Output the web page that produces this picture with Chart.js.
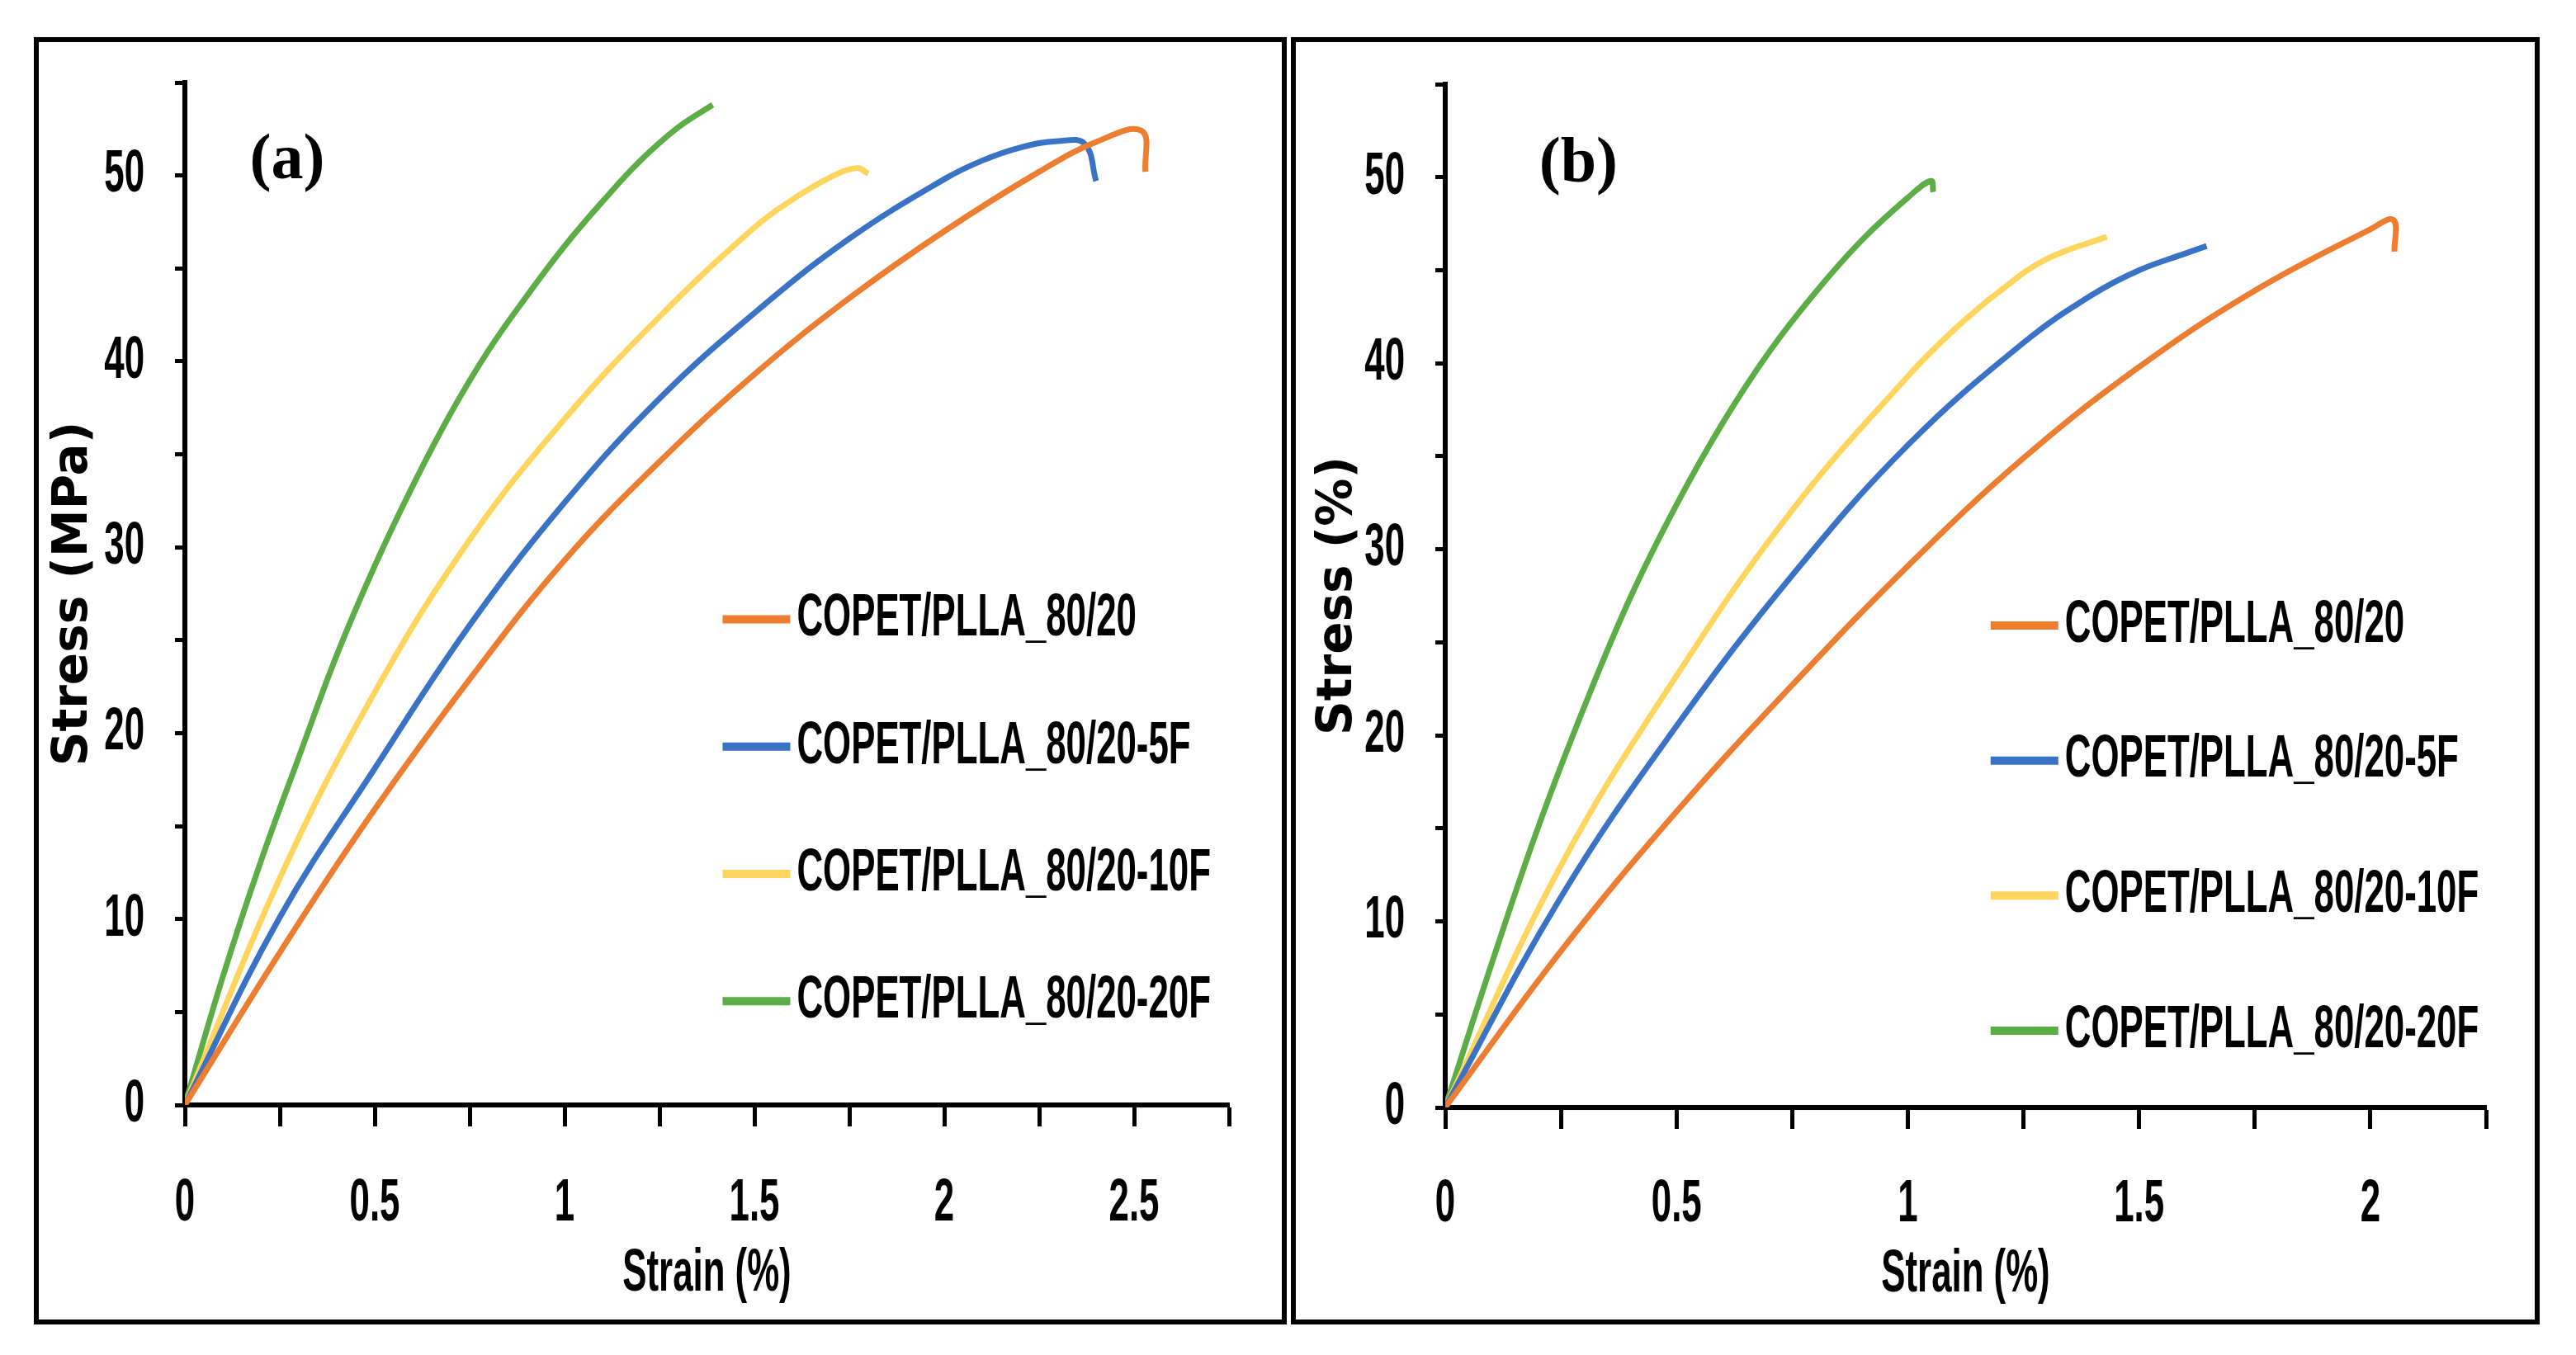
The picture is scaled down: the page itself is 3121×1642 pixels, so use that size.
<!DOCTYPE html>
<html>
<head>
<meta charset="utf-8">
<title>Stress-strain curves</title>
<script src="https://cdn.jsdelivr.net/npm/chart.js@4.4.1/dist/chart.umd.min.js"></script>
<style>
    html, body { margin: 0; padding: 0; background: #ffffff; }
    body { width: 3121px; height: 1642px; position: relative; overflow: hidden; }
    .panel { position: absolute; border: 6px solid #000; box-sizing: border-box; background: #fff; }
    .panel canvas { display: block; }
</style>
</head>
<body>
<div class="panel" id="panelA" style="left:41px; top:45px; width:1518px; height:1560px;"><canvas id="chartA"></canvas></div>
<div class="panel" id="panelB" style="left:1564px; top:45px; width:1513px; height:1560px;"><canvas id="chartB"></canvas></div>

<script>
// Series names (same four blends in both panels)
const seriesNames = ['COPET/PLLA_80/20', 'COPET/PLLA_80/20-5F', 'COPET/PLLA_80/20-10F', 'COPET/PLLA_80/20-20F'];
const seriesColors = ['#ED7D31', '#3A72C6', '#FFD55E', '#5CAD45'];

// Tick labels that are printed (the other ticks are bare marks)
const xTickLabelsA = [0, 0.5, 1, 1.5, 2, 2.5];
const xTickLabelsB = [0, 0.5, 1, 1.5, 2];
const yTickLabels = [0, 10, 20, 30, 40, 50];

// Panel (a) - strain (%) / stress (MPa)
const strainA_8020 = [0, 0.25, 0.5, 0.75, 1.0, 1.25, 1.5, 1.75, 2.0, 2.25, 2.4, 2.52, 2.53];
const stressA_8020 = [0, 8.2, 15.9, 22.9, 29.3, 34.6, 39.3, 43.4, 47.0, 50.2, 51.8, 52.4, 50.2];
const strainA_5F = [0, 0.25, 0.5, 0.75, 1.0, 1.25, 1.5, 1.75, 2.0, 2.1, 2.2, 2.3, 2.37, 2.40];
const stressA_5F = [0, 10.1, 18.1, 25.8, 32.4, 38.0, 42.6, 46.6, 49.8, 50.8, 51.5, 51.85, 51.7, 49.7];
const strainA_10F = [0, 0.25, 0.5, 0.75, 1.0, 1.25, 1.5, 1.6, 1.7, 1.77, 1.80];
const stressA_10F = [0, 12.2, 22.2, 30.4, 36.9, 42.4, 47.2, 48.7, 49.9, 50.4, 50.1];
const strainA_20F = [0, 0.1, 0.2, 0.3, 0.4, 0.5, 0.6, 0.7, 0.8, 0.9, 1.0, 1.1, 1.2, 1.3, 1.39];
const stressA_20F = [0, 6.9, 13.1, 18.7, 24.2, 29.0, 33.3, 37.2, 40.6, 43.5, 46.2, 48.6, 50.8, 52.6, 53.8];

// Panel (b)
const strainB_8020 = [0, 0.25, 0.5, 0.75, 1.0, 1.25, 1.5, 1.75, 2.0, 2.05, 2.052];
const stressB_8020 = [0, 8.4, 15.9, 22.7, 29.1, 34.9, 39.8, 43.9, 47.2, 47.7, 46.0];
const strainB_5F = [0, 0.25, 0.5, 0.75, 1.0, 1.25, 1.4, 1.5, 1.6, 1.646];
const stressB_5F = [0, 11.3, 20.5, 28.6, 35.6, 41.1, 43.7, 45.0, 45.9, 46.3];
const strainB_10F = [0, 0.25, 0.5, 0.75, 1.0, 1.1, 1.2, 1.3, 1.43];
const stressB_10F = [0, 13.0, 23.2, 32.1, 39.3, 41.8, 43.9, 45.6, 46.8];
const strainB_20F = [0, 0.1, 0.2, 0.3, 0.4, 0.5, 0.6, 0.7, 0.8, 0.9, 1.0, 1.05, 1.055];
const stressB_20F = [0, 7.7, 15.0, 21.5, 27.4, 32.4, 36.8, 40.6, 43.8, 46.6, 48.9, 49.8, 49.2];

// Tall, condensed bold face (the figure uses a narrow Excel font)
const NARROW_FONT = "bold 60px 'Liberation Sans', Arial, sans-serif";
const NARROW_SX = 0.73;
const NARROW_SY = 1.2;

function narrowText(ctx, text, x, y, align) {
    ctx.save();
    ctx.translate(x, y);
    ctx.scale(NARROW_SX, NARROW_SY);
    ctx.font = NARROW_FONT;
    ctx.fillStyle = '#000';
    ctx.textAlign = align;
    ctx.textBaseline = 'middle';
    ctx.fillText(text, 0, 0);
    ctx.restore();
}

/**
 * Tick labels, x title, panel tag and legend, drawn in the narrow face
 */
const panelOverlay = {
    id: 'panelOverlay',
    afterDraw(chart, args, opts) {
        const { ctx, chartArea: area, scales } = chart;
        const w = area.right - area.left;
        const h = area.bottom - area.top;
        ctx.save();

        // Tick labels, positioned by the chart scales
        opts.xLabels.forEach(v => {
            narrowText(ctx, String(v), scales.x.getPixelForValue(v), area.bottom + opts.xLabelOffset, 'center');
        });
        opts.yLabels.forEach(v => {
            narrowText(ctx, String(v), area.left - 49, scales.y.getPixelForValue(v), 'right');
        });

        // X axis title
        narrowText(ctx, opts.xTitle, (area.left + area.right) / 2, area.bottom + opts.xTitleOffset, 'center');

        // Panel tag
        ctx.fillStyle = '#000';
        ctx.font = "bold 78px 'Liberation Serif', serif";
        ctx.textAlign = 'center';
        ctx.textBaseline = 'middle';
        ctx.fillText(opts.tag, area.left + w * opts.tagX, area.top + h * opts.tagY);

        // Legend rows
        chart.data.datasets.forEach((ds, i) => {
            const x = area.left + w * opts.legendX;
            const y = area.top + h * (opts.legendY + i * opts.legendGap);
            ctx.strokeStyle = ds.borderColor;
            ctx.lineWidth = 10;
            ctx.lineCap = 'butt';
            ctx.beginPath();
            ctx.moveTo(x, y);
            ctx.lineTo(x + 82, y);
            ctx.stroke();
            narrowText(ctx, ds.label, x + 90, y, 'left');
        });
        ctx.restore();
    }
};

class StressStrainCharts {
    constructor() {
        this.charts = {};
    }

    init() {
        this.charts.a = this.buildPanel('chartA', {
            strains: [strainA_8020, strainA_5F, strainA_10F, strainA_20F],
            stresses: [stressA_8020, stressA_5F, stressA_10F, stressA_20F],
            xMax: 2.75,
            yTitle: 'Stress (MPa)',
            yAxisWidth: 177, xAxisHeight: 260, padTop: 49, padRight: 64,
            yTitlePad: 8,
            overlay: {
                xLabels: xTickLabelsA, yLabels: yTickLabels, xTitle: 'Strain (%)',
                xLabelOffset: 120, xTitleOffset: 205,
                tag: '(a)', tagX: 0.098, tagY: 0.077, legendX: 0.515, legendY: 0.525, legendGap: 0.1245
            }
        });
        this.charts.b = this.buildPanel('chartB', {
            strains: [strainB_8020, strainB_5F, strainB_10F, strainB_20F],
            stresses: [stressB_8020, stressB_5F, stressB_10F, stressB_20F],
            xMax: 2.25,
            yTitle: 'Stress (%)',
            yAxisWidth: 181, xAxisHeight: 257, padTop: 51, padRight: 59,
            yTitlePad: 17,
            overlay: {
                xLabels: xTickLabelsB, yLabels: yTickLabels, xTitle: 'Strain (%)',
                xLabelOffset: 118, xTitleOffset: 203,
                tag: '(b)', tagX: 0.128, tagY: 0.079, legendX: 0.524, legendY: 0.529, legendGap: 0.132
            }
        });
    }

    /**
     * One stress-strain panel
     */
    buildPanel(canvasId, cfg) {
        const canvas = document.getElementById(canvasId);
        if (!canvas) {
            console.log(`Canvas ${canvasId} not found`);
            return null;
        }

        const datasets = seriesNames.map((name, i) => ({
            label: name,
            data: cfg.strains[i].map((x, k) => ({ x: x, y: cfg.stresses[i][k] })),
            borderColor: seriesColors[i],
            backgroundColor: seriesColors[i],
            borderWidth: 7,
            pointRadius: 0,
            fill: false,
            tension: 0.4
        }));

        return new Chart(canvas.getContext('2d'), {
            type: 'line',
            data: { datasets: datasets },
            options: {
                responsive: true,
                maintainAspectRatio: false,
                animation: false,
                layout: { padding: { left: 0, top: cfg.padTop, right: cfg.padRight, bottom: 0 } },
                plugins: {
                    legend: { display: false },
                    tooltip: { enabled: false },
                    panelOverlay: cfg.overlay
                },
                scales: {
                    x: {
                        type: 'linear',
                        min: 0,
                        max: cfg.xMax,
                        afterFit: (scale) => { scale.height = cfg.xAxisHeight; },
                        border: { display: true, color: '#000', width: 6 },
                        grid: { drawOnChartArea: false, drawTicks: true, tickLength: 26, tickColor: '#000', tickWidth: 5 },
                        ticks: { display: false, stepSize: 0.25, autoSkip: false, maxRotation: 0 },
                        title: { display: false }
                    },
                    y: {
                        type: 'linear',
                        min: 0,
                        max: 55,
                        afterFit: (scale) => { scale.width = cfg.yAxisWidth; },
                        border: { display: true, color: '#000', width: 6 },
                        grid: { drawOnChartArea: false, drawTicks: true, tickLength: 12, tickColor: '#000', tickWidth: 5 },
                        ticks: { display: false, stepSize: 5, autoSkip: false },
                        title: {
                            display: true,
                            text: cfg.yTitle,
                            color: '#000',
                            font: { family: "'DejaVu Sans', sans-serif", size: 58, weight: 'bold', lineHeight: 1.2 },
                            padding: { top: cfg.yTitlePad, bottom: 0 }
                        }
                    }
                }
            },
            plugins: [panelOverlay]
        });
    }
}

new StressStrainCharts().init();
</script>
</body>
</html>
